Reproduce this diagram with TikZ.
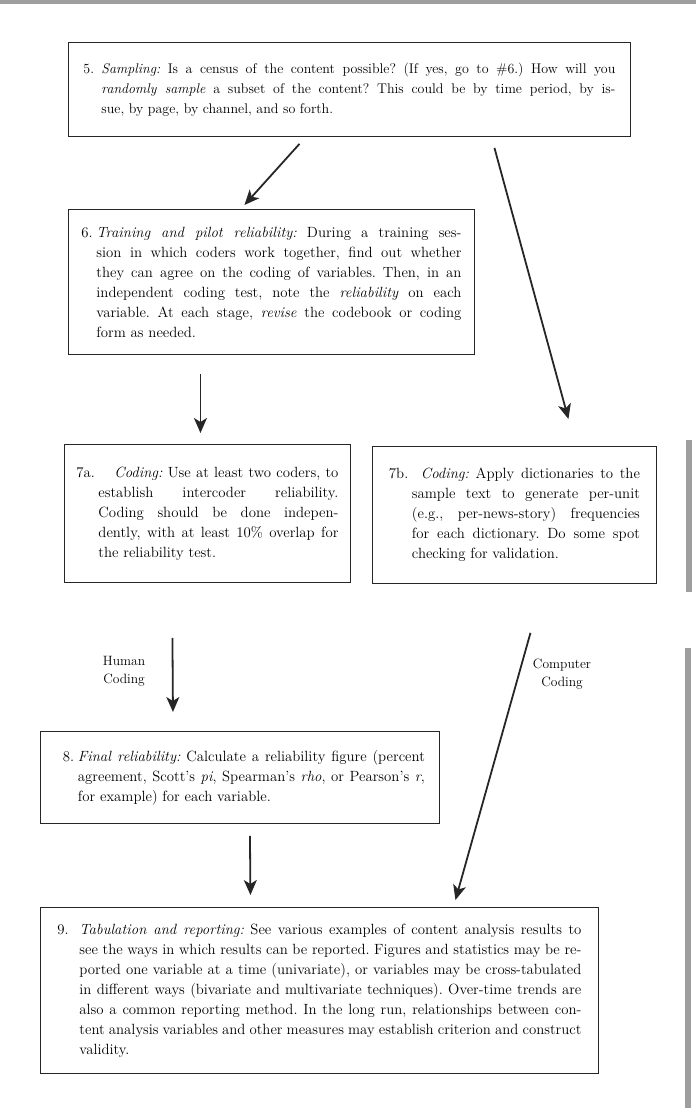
\documentclass[tikz,border=0pt]{standalone}
\usepackage{fontspec}
\usepackage{tikz}
\usetikzlibrary{arrows.meta,positioning,calc}
\definecolor{inkgray}{gray}{0.15}
\definecolor{scangray}{gray}{0.62}
\tikzset{
  stepbox/.style={rectangle,draw=inkgray,line width=0.9pt,anchor=north west,
    inner xsep=0pt,inner ysep=4pt,
    font=\fontsize{14.8}{20}\selectfont\frenchspacing},
  flow/.style={-{Stealth[length=15pt,width=13pt,inset=4pt]},line width=1.8pt,draw=inkgray},
  sidelabel/.style={align=center,font=\fontsize{13.5}{18}\selectfont},
}
% number in a hanging box, text in a justified block beside it
\newcommand{\stepno}[3]{\makebox[#1][l]{#2}\parbox[t]{#3}}

\begin{document}
\begin{tikzpicture}[x=1pt,y=-1pt]
  \useasboundingbox (0,0) rectangle (696,1108);
  % scan edges
  \fill[scangray] (0,0) rectangle (696,4);
  \fill[scangray] (686,440) rectangle (692,592);
  \fill[scangray] (685,648) rectangle (691,1108);

  \node[stepbox,minimum width=562pt,minimum height=94pt,font=\fontsize{14}{20}\selectfont\frenchspacing] (s5) at (68,42)
    {\stepno{18pt}{5.}{514pt}{\textit{Sampling:} Is a census of the content possible? (If yes, go to \#6.) How will you\linebreak
     \textit{randomly sample} a subset of the content? This could be by time period, by is-\linebreak
     sue, by page, by channel, and so forth.}};
  \node[stepbox,minimum width=406pt,minimum height=145pt] (s6) at (68,209)
    {\stepno{15pt}{6.}{365pt}{\textit{Training and pilot reliability:} During a training ses-\linebreak
     sion in which coders work together, find out whether\linebreak
     they can agree on the coding of variables. Then, in an\linebreak
     independent coding test, note the \textit{reliability} on each\linebreak
     variable. At each stage, \textit{revise} the codebook or coding\linebreak
     form as needed.}};
  \node[stepbox,minimum width=286pt,minimum height=138pt] (s7a) at (64,444)
    {\stepno{22pt}{7a.}{240pt}{\hspace*{16pt}\textit{Coding:} Use at least two coders, to\linebreak
     establish intercoder reliability.\linebreak
     Coding should be done indepen-\linebreak
     dently, with at least 10\% overlap for\linebreak
     the reliability test.}};
  \node[stepbox,minimum width=284pt,minimum height=137pt] (s7b) at (372,446)
    {\stepno{23pt}{7b.}{228pt}{\hspace*{9pt}\textit{Coding:} Apply dictionaries to the\linebreak
     sample text to generate per-unit\linebreak
     (e.g., per-news-story) frequencies\linebreak
     for each dictionary. Do some spot\linebreak
     checking for validation.}};
  \node[stepbox,minimum width=399pt,minimum height=92pt] (s8) at (40,731)
    {\hspace*{8pt}\stepno{15pt}{8.}{347pt}{\textit{Final reliability:} Calculate a reliability figure (percent\linebreak
     agreement, Scott's \textit{pi}, Spearman's \textit{rho}, or Pearson's \textit{r},\linebreak
     for example) for each variable.}};
  \node[stepbox,minimum width=558pt,minimum height=166pt] (s9) at (40,907)
    {\stepno{22pt}{9.}{502pt}{\textit{Tabulation and reporting:} See various examples of content analysis results to\linebreak
     see the ways in which results can be reported. Figures and statistics may be re-\linebreak
     ported one variable at a time (univariate), or variables may be cross-tabulated\linebreak
     in different ways (bivariate and multivariate techniques). Over-time trends are\linebreak
     also a common reporting method. In the long run, relationships between con-\linebreak
     tent analysis variables and other measures may establish criterion and construct\linebreak
     validity.}};

  \node[sidelabel] (human) at (124,671) {Human\\Coding};
  \node[sidelabel] (computer) at (562,674) {Computer\\Coding};

  \draw[flow] ([xshift=-50pt,yshift=-7pt]s5.south) -- ([xshift=-27pt,yshift=4pt]s6.north);
  \draw[flow] ([xshift=145pt,yshift=-11pt]s5.south) -- ([xshift=54pt,yshift=27pt]s7b.north);
  \draw[flow] ([xshift=-71pt,yshift=-19pt]s6.south) -- ([xshift=-7pt,yshift=11pt]s7a.north);
  \draw[flow] ([xshift=-35pt,yshift=-55pt]s7a.south) -- ([xshift=-67pt,yshift=19pt]s8.north);
  \draw[flow] ([xshift=16pt,yshift=-49pt]s7b.south) -- ([xshift=136pt,yshift=7pt]s9.north);
  \draw[flow] ([xshift=10pt,yshift=-12pt]s8.south) -- ([xshift=-69pt,yshift=12pt]s9.north);
\end{tikzpicture}
\end{document}
